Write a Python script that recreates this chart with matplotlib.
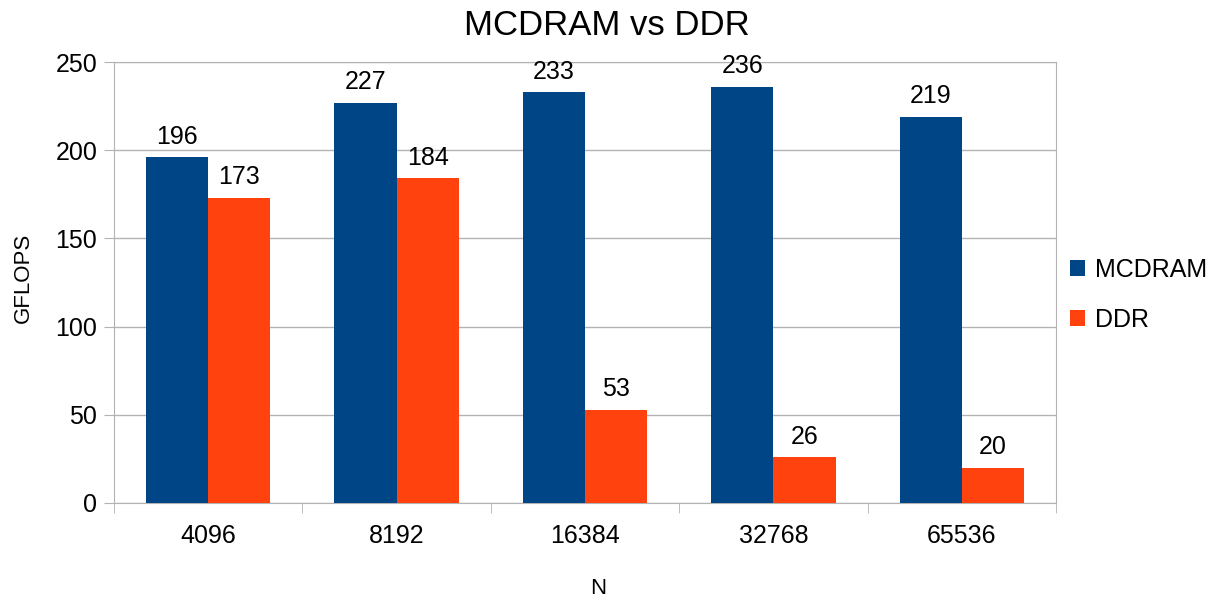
import matplotlib.pyplot as plt
import numpy as np

plt.rcParams['font.family'] = ['Liberation Sans', 'DejaVu Sans']

categories = ["4096", "8192", "16384", "32768", "65536"]
mcdram = [196, 227, 233, 236, 219]
ddr = [173, 184, 53, 26, 20]

BLUE = "#004586"
ORANGE = "#ff420e"
GRID = "#b3b3b3"

fig = plt.figure(figsize=(12.2, 6.01), dpi=100)
ax = fig.add_axes([114 / 1220, 98 / 601, 942 / 1220, 441 / 601])

x = np.arange(len(categories))
w = 0.33
b1 = ax.bar(x - w / 2, mcdram, w, color=BLUE, label="MCDRAM", zorder=3)
b2 = ax.bar(x + w / 2, ddr, w, color=ORANGE, label="DDR", zorder=3)
for bars in (b1, b2):
    ax.bar_label(bars, padding=6, fontsize=18)

ax.set_xlim(-0.5, len(categories) - 0.5)
ax.set_ylim(0, 250)
ax.set_yticks(range(0, 251, 50))
ax.set_xticks(x)
ax.set_xticklabels(categories)
ax.set_xticks(np.arange(-0.5, len(categories)), minor=True)
ax.tick_params(axis="x", which="major", length=0, pad=15, labelsize=18)
ax.tick_params(axis="x", which="minor", length=7, color=GRID)
ax.tick_params(axis="y", length=7, color=GRID, labelsize=18, pad=5)
ax.yaxis.grid(True, color=GRID, linewidth=1, zorder=0)
for s in ax.spines.values():
    s.set_color(GRID)

fig.text(23 / 1220, 1 - 278 / 601, "GFLOPS", fontsize=16, rotation=90,
         ha="center", va="center")
fig.text(598 / 1220, 1 - 589 / 601, "N", fontsize=16, ha="center", va="center")
fig.text(607 / 1220, 1 - 35 / 601, "MCDRAM vs DDR", fontsize=25,
         ha="center", va="baseline")

ax.legend(loc="center left", bbox_to_anchor=(1070 / 1220, 1 - 295 / 601),
          bbox_transform=fig.transFigure, frameon=False,
          fontsize=18, handlelength=0.6, handleheight=0.6, labelspacing=1.05,
          handletextpad=0.4, borderaxespad=0, borderpad=0)

fig.savefig("out.png", dpi=100)
